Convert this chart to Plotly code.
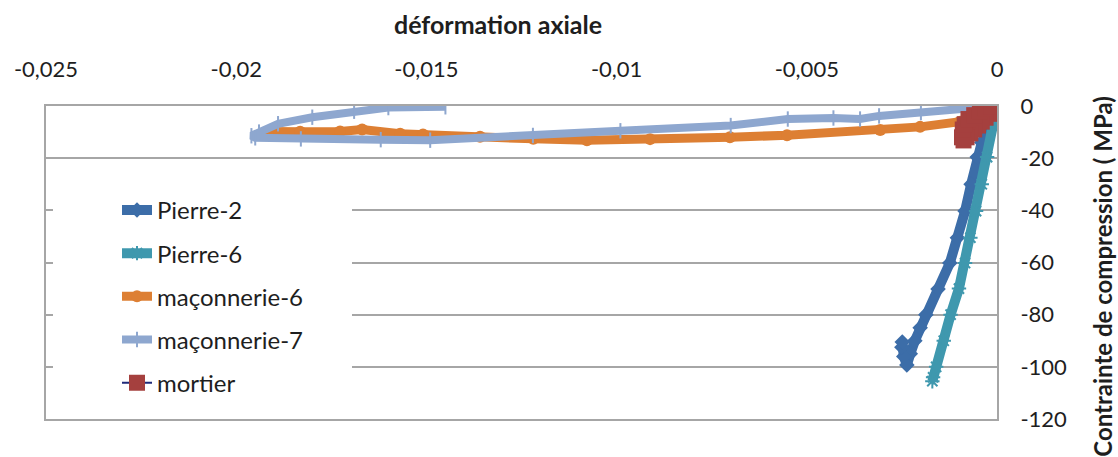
import plotly.graph_objects as go

# Axial strain (negative = shortening) and compressive stress in MPa
p2_strain = [0, -0.00012, -0.00025, -0.0004, -0.00052, -0.00068, -0.00084, -0.00104, -0.00124,
             -0.00155, -0.00187, -0.00202, -0.00216, -0.00228, -0.00237, -0.00245, -0.0025, -0.00249]
p2_stress = [0, -3, -8, -14, -19.6, -30, -40.3, -50.5, -60.2,
             -70.2, -80, -85, -90, -95, -99.3, -96, -92.5, -90.5]

p6_strain = [0, -0.0001, -0.00026, -0.0004, -0.00055, -0.0007, -0.00084, -0.001, -0.00122,
             -0.0014, -0.0016, -0.00168, -0.0017]
p6_stress = [0, -7, -19.6, -30, -40.3, -50.5, -60.2, -70, -80, -90, -100, -104, -105.5]

m6_strain = [0, -0.00058, -0.00097, -0.00202, -0.00307, -0.00552, -0.00702, -0.00912, -0.01078,
             -0.01219, -0.01359, -0.01509, -0.01569, -0.01669, -0.01727, -0.01832, -0.01916]
m6_stress = [0, -4.0, -6.0, -8.0, -9.2, -11.2, -12.0, -12.7, -13.1,
             -12.6, -11.8, -10.9, -10.6, -9.0, -9.8, -9.9, -9.8]

m7_strain = [0, -0.00045, -0.0020, -0.0031, -0.0036, -0.0043, -0.0055, -0.0070, -0.0099, -0.0122,
             -0.0149, -0.0162, -0.0183, -0.0195, -0.0196, -0.0194, -0.0189, -0.0180, -0.0169,
             -0.0160, -0.0145]
m7_stress = [0, -0.5, -2.5, -3.8, -5.0, -4.6, -5.0, -7.5, -9.5, -11.3,
             -13.1, -12.9, -12.6, -12.2, -11.4, -10.0, -6.8, -4.3, -2.0, -0.6, -0.3]

mortier_strain = [0, -0.0001, -0.0002, -0.0003, -0.0004, -0.0005, -0.0006, -0.0007, -0.0008,
                  -0.00088, -0.00092, -0.0009, -0.00085, -0.00075, -0.0006, -0.00045, -0.0003,
                  -0.00015, 0]
mortier_stress = [0, -1.5, -3, -4.5, -6, -7.5, -9, -10.5, -12,
                  -13.2, -12, -9, -7, -5, -3.5, -2, -1, -0.3, 0]

x_tick_vals = [-0.025, -0.02, -0.015, -0.01, -0.005, 0]
x_tick_text = ["-0,025", "-0,02", "-0,015", "-0,01", "-0,005", "0"]
y_tick_vals = [0, -20, -40, -60, -80, -100, -120]
y_tick_text = ["0", "-20", "-40", "-60", "-80", "-100", "-120"]

FONT = "Lato"
TEXT = "#1e1e1e"
GRID = "#a6a6a6"

fig = go.Figure()

fig.add_trace(go.Scatter(
    x=p2_strain, y=p2_stress, name="Pierre-2", legendgroup="p2", mode="lines+markers",
    line=dict(color="#3c6da8", width=10),
    marker=dict(symbol="diamond", size=12, color="#3c6da8"),
))
fig.add_trace(go.Scatter(
    x=p6_strain, y=p6_stress, name="Pierre-6", legendgroup="p6", mode="lines+markers",
    line=dict(color="#3f98ae", width=10),
    marker=dict(symbol="asterisk-open", size=12, color="#3f98ae",
                line=dict(color="#3f98ae", width=2)),
))
fig.add_trace(go.Scatter(
    x=m6_strain, y=m6_stress, name="maçonnerie-6", legendgroup="m6", mode="lines+markers",
    line=dict(color="#dd7f33", width=9),
    marker=dict(symbol="circle", size=12, color="#dd7f33"),
))
fig.add_trace(go.Scatter(
    x=m7_strain, y=m7_stress, name="maçonnerie-7", legendgroup="m7", mode="lines+markers",
    line=dict(color="#8ea7cf", width=8),
    marker=dict(symbol="line-ns-open", size=11, color="#8ea7cf",
                line=dict(color="#8ea7cf", width=2)),
))
fig.add_trace(go.Scatter(
    x=mortier_strain, y=mortier_stress, name="mortier", legendgroup="mo", mode="lines+markers",
    line=dict(color="#1f2a7a", width=2),
    marker=dict(symbol="square", size=16, color="#a5403e"),
))

# white panel behind the legend (breaks the grid lines like the legend box)
fig.add_shape(type="rect", xref="paper", yref="paper",
              x0=(53 - 46) / 951, x1=(352 - 46) / 951,
              y0=(419.5 - 414) / 313.5, y1=(419.5 - 164) / 313.5,
              fillcolor="white", line=dict(width=0), layer="above")

fig.add_annotation(text="<b>déformation axiale</b>", xref="paper", yref="paper",
                   x=(498 - 46) / 951, y=(419.5 - 24) / 313.5, showarrow=False,
                   xanchor="center", yanchor="middle",
                   font=dict(family=FONT, size=25, color=TEXT))
fig.add_annotation(text="<b>Contrainte de compression ( MPa)</b>", xref="paper", yref="paper",
                   x=(1103 - 46) / 951, y=(419.5 - 277) / 313.5, showarrow=False,
                   textangle=-90, xanchor="center", yanchor="middle",
                   font=dict(family=FONT, size=24, color=TEXT))

fig.update_layout(
    width=1118, height=457, autosize=False,
    margin=dict(l=46, r=121, t=106, b=38, pad=0),
    paper_bgcolor="white", plot_bgcolor="white",
    font=dict(family=FONT, size=22, color=TEXT),
    showlegend=True,
    legend=dict(x=(117 - 46) / 951, y=(419.5 - 188) / 313.5, xanchor="left", yanchor="top",
                bgcolor="rgba(0,0,0,0)", borderwidth=0, tracegroupgap=9,
                itemsizing="trace", font=dict(family=FONT, size=24, color=TEXT)),
    xaxis=dict(side="top", range=[-0.025, 0], tickvals=x_tick_vals, ticktext=x_tick_text,
               showgrid=False, zeroline=False, showline=True, mirror=True,
               linecolor=GRID, linewidth=2, ticks="", ticklabelstandoff=18,
               tickfont=dict(family=FONT, size=22, color=TEXT)),
    yaxis=dict(side="right", range=[-120, 0], tickvals=y_tick_vals, ticktext=y_tick_text,
               showgrid=True, gridcolor=GRID, gridwidth=2, zeroline=False,
               showline=True, mirror=True, linecolor=GRID, linewidth=2,
               ticks="", ticklabelstandoff=17,
               tickfont=dict(family=FONT, size=22, color=TEXT)),
)

fig.write_html("out.html")
